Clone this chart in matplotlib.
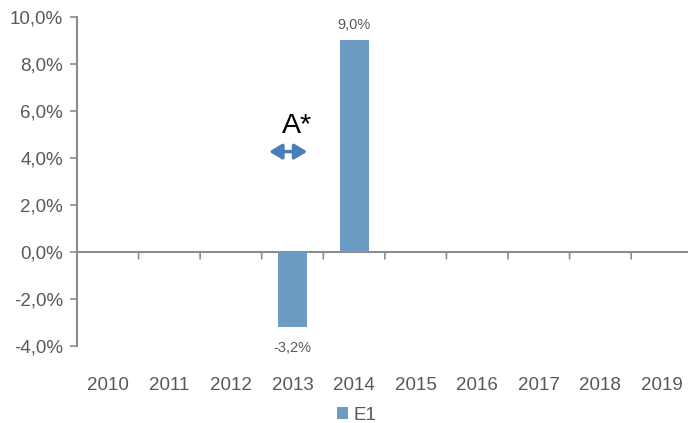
import matplotlib
matplotlib.use("Agg")
import matplotlib.pyplot as plt
import numpy as np

# data
years = ["2010", "2011", "2012", "2013", "2014", "2015", "2016", "2017", "2018", "2019"]
e1 = [0, 0, 0, -3.2, 9.0, 0, 0, 0, 0, 0]
labelled = {"2013": "-3,2%", "2014": "9,0%"}
yticks = [-4, -2, 0, 2, 4, 6, 8, 10]

plt.rcParams['font.family'] = ['Liberation Sans', 'DejaVu Sans']
grey = "#595959"
axis_grey = "#8c8c8c"
bar_col = "#6d9bc3"

fig = plt.figure(figsize=(6.88, 4.23), dpi=100)
ax = fig.add_axes([0.1119, 0.182, 0.895, 0.778])

x = np.arange(len(years))
bars = ax.bar(x, e1, width=0.47, color=bar_col, label="E1", zorder=2)

# value labels
for xi, yr, v in zip(x, years, e1):
    if yr in labelled:
        off = 11 if v > 0 else -15
        ax.annotate(labelled[yr], (xi, v), xytext=(0, off), textcoords="offset points",
                    ha="center", va="center", fontsize=10.5, color=grey)

ax.set_xlim(-0.5, len(years) - 0.5)
ax.set_ylim(-4, 10)
ax.set_yticks(yticks)
ax.set_yticklabels([f"{t:.1f}%".replace(".", ",") for t in yticks])
ax.set_xticks(x)
ax.set_xticklabels(years)

for s in ["top", "right", "bottom"]:
    ax.spines[s].set_visible(False)
ax.spines["left"].set_color(axis_grey)
ax.spines["left"].set_linewidth(1.5)
ax.tick_params(axis="y", colors=axis_grey, labelcolor=grey, labelsize=13.5, length=5, width=1.2, pad=5)
ax.tick_params(axis="x", length=0, labelcolor=grey, labelsize=13.5, pad=22)

# zero line with category separator ticks
ax.axhline(0, color=axis_grey, lw=1.5, zorder=1)
for b in x[:-1] + 0.5:
    ax.annotate("", xy=(b, 0), xytext=(0, -5), textcoords="offset points",
                arrowprops=dict(arrowstyle="-", color=axis_grey, lw=1.2, shrinkA=0, shrinkB=0))

# A* annotation with double arrow
ax.annotate("", xy=(2.62, 4.27), xytext=(3.24, 4.27),
            arrowprops=dict(arrowstyle="<|-|>,head_length=0.75,head_width=0.45",
                            color="#4a7ebb", lw=2.5, shrinkA=0, shrinkB=0))
ax.text(3.07, 5.35, "A*", fontsize=20.5, ha="center", va="center", color="black")

fig.legend(handles=[bars], labels=["E1"], loc="lower center", bbox_to_anchor=(0.518, -0.042),
           frameon=False, fontsize=13.5, labelcolor=grey, handlelength=0.6, handleheight=0.6,
           handletextpad=0.3)

fig.savefig("out.png", dpi=100)
